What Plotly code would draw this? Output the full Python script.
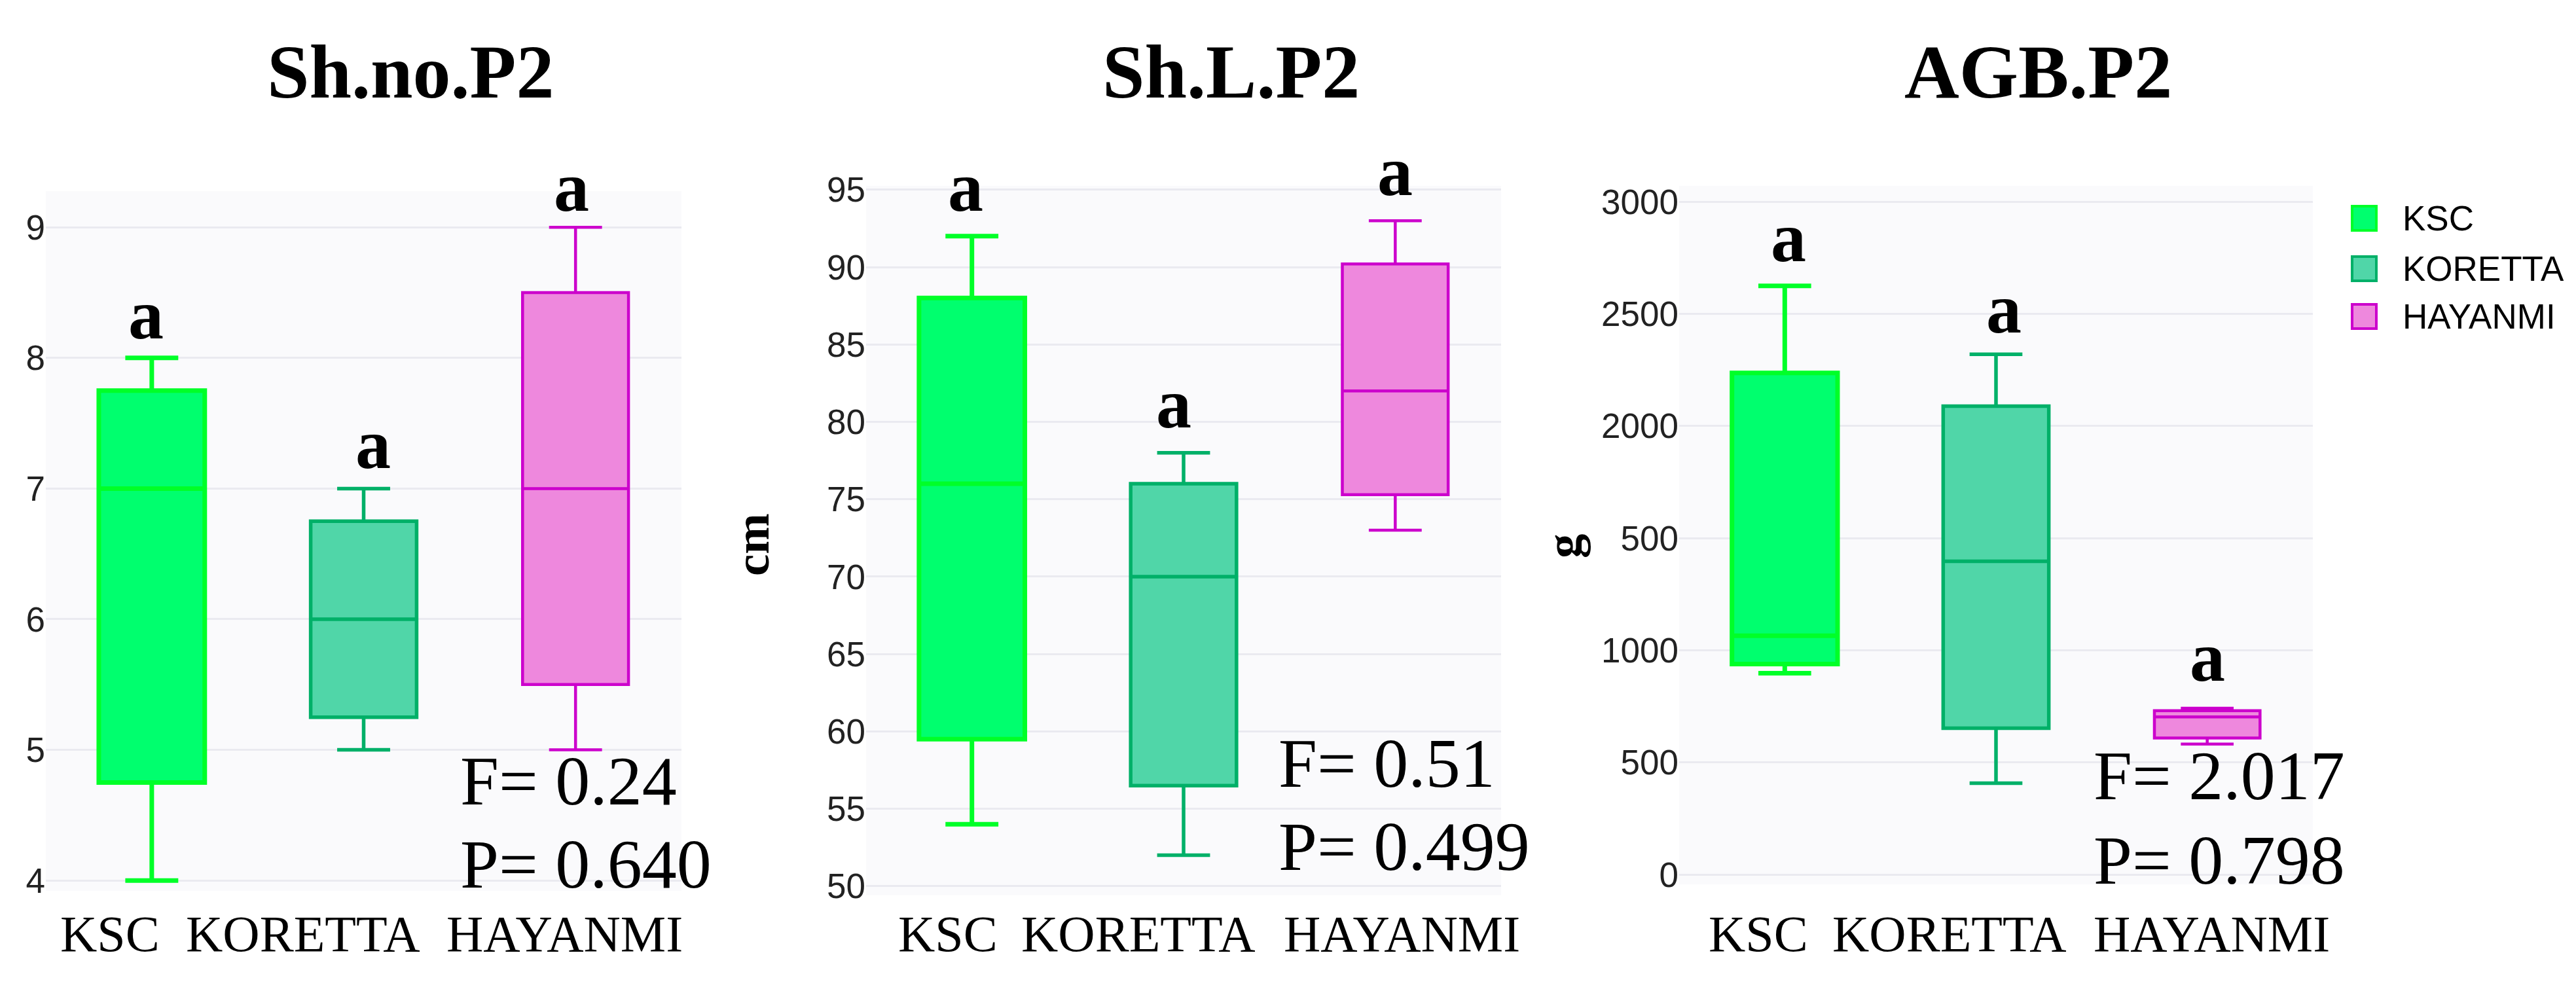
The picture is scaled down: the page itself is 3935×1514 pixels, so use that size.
import plotly.graph_objects as go

W, H = 3935, 1514

categories = ["KSC", "KORETTA", "HAYANMI"]
panel_titles = ["Sh.no.P2", "Sh.L.P2", "AGB.P2"]
y_titles = ["", "cm", "g"]

# Sh.no.P2 box statistics (per category)
shno_min = [4, 5, 5]
shno_q1 = [4.75, 5.25, 5.5]
shno_med = [7, 6, 7]
shno_q3 = [7.75, 6.75, 8.5]
shno_max = [8, 7, 9]

# Sh.L.P2 box statistics (cm)
shl_min = [54, 52, 73]
shl_q1 = [59.5, 56.5, 75.3]
shl_med = [76, 70, 82]
shl_q3 = [88, 76, 90.2]
shl_max = [92, 78, 93]

# AGB.P2 box statistics (g)
agb_min = [898, 408, 582]
agb_q1 = [939, 653, 609]
agb_med = [1065, 1397, 703]
agb_q3 = [2237, 2089, 731]
agb_max = [2625, 2320, 742]

# significance letters and their heights (in axis units)
letters = ["a", "a", "a"]
letter_y_shno = [8.33, 7.34, 9.31]
letter_y_shl = [95.2, 81.2, 96.2]
letter_y_agb = [2841, 2523, 972]

f_text = ["F= 0.24", "F= 0.51", "F= 2.017"]
p_text = ["P= 0.640", "P= 0.499", "P= 0.798"]

shno_ticks = [4, 5, 6, 7, 8, 9]
shl_ticks = [50, 55, 60, 65, 70, 75, 80, 85, 90, 95]
agb_tickvals = [0, 500, 1000, 1500, 2000, 2500, 3000]
agb_ticktext = ["0", "500", "1000", "500", "2000", "2500", "3000"]

line_colors = ["rgb(0,255,40)", "rgb(0,176,104)", "rgb(204,0,204)"]
fill_colors = ["rgb(0,255,110)", "rgb(80,214,168)", "rgb(238,136,221)"]
line_widths = [7, 5.5, 4.5]

panels = [
    dict(mn=shno_min, q1=shno_q1, md=shno_med, q3=shno_q3, mx=shno_max,
         ly=letter_y_shno, lxs=[-9, 14, -6],
         xpx=(70, 1041), ypx=(1373, 275), yrange=[3.922, 9.278],
         tickvals=shno_ticks, ticktext=[str(v) for v in shno_ticks],
         title_x=627, lab_x=[90, 282, 680], f_pos=(701, 1201), p_pos=(701, 1332),
         yt_pos=None),
    dict(mn=shl_min, q1=shl_q1, md=shl_med, q3=shl_q3, mx=shl_max,
         ly=letter_y_shl, lxs=[-10, -15, 0],
         xpx=(1323, 2293), ypx=(1380, 267), yrange=[49.42, 95.25],
         tickvals=shl_ticks, ticktext=[str(v) for v in shl_ticks],
         title_x=1880, lab_x=[1370, 1558, 1959], f_pos=(1951, 1173), p_pos=(1951, 1304),
         yt_pos=(1148, 830)),
    dict(mn=agb_min, q1=agb_q1, md=agb_med, q3=agb_q3, mx=agb_max,
         ly=letter_y_agb, lxs=[6, 12, 0],
         xpx=(2565, 3533), ypx=(1363, 267), yrange=[-43, 3071],
         tickvals=agb_tickvals, ticktext=agb_ticktext,
         title_x=3113, lab_x=[2608, 2797, 3196], f_pos=(3196, 1193), p_pos=(3196, 1326),
         yt_pos=(2388, 832)),
]


def px(x):
    return x / W


def py(y):
    return 1 - y / H


serif = "Liberation Serif"
sans = "Liberation Sans"

fig = go.Figure()
annotations = []
shapes = []
layout = {}

for i, p in enumerate(panels):
    sfx = "" if i == 0 else str(i + 1)
    xa, ya = "x" + sfx, "y" + sfx
    d0, d1 = py(p["ypx"][0]), py(p["ypx"][1])
    r0, r1 = p["yrange"]
    for j, cat in enumerate(categories):
        fig.add_trace(go.Box(
            x=[cat], q1=[p["q1"][j]], median=[p["md"][j]], q3=[p["q3"][j]],
            lowerfence=[p["mn"][j]], upperfence=[p["mx"][j]],
            name=cat, xaxis=xa, yaxis=ya, width=0.5, whiskerwidth=0.5,
            fillcolor=fill_colors[j], line=dict(color=line_colors[j], width=line_widths[j]),
            boxpoints=False, showlegend=False, hoverinfo="skip",
        ))
        # letter height: axis value -> paper fraction (letters may sit above the plot area)
        yl = d0 + (p["ly"][j] - r0) / (r1 - r0) * (d1 - d0)
        annotations.append(dict(
            x=cat, y=yl, xref=xa, yref="paper", text=letters[j], showarrow=False,
            xshift=p["lxs"][j], font=dict(family=serif, size=108, color="black", weight="bold"),
            xanchor="center", yanchor="middle"))
        annotations.append(dict(
            x=px(p["lab_x"][j]), y=py(1441), xref="paper", yref="paper", text=cat,
            showarrow=False, xanchor="left", yanchor="middle",
            font=dict(family=serif, size=78, color="black")))
    layout["xaxis" + sfx] = dict(
        domain=[px(p["xpx"][0]), px(p["xpx"][1])], anchor=ya, type="category",
        categoryorder="array", categoryarray=categories, range=[-0.5, 2.5],
        showticklabels=False, showgrid=False, zeroline=False, showline=False, ticks="")
    layout["yaxis" + sfx] = dict(
        domain=[d0, d1], anchor=xa, range=p["yrange"],
        tickvals=p["tickvals"], ticktext=p["ticktext"], showgrid=True,
        gridcolor="rgb(234,234,240)", gridwidth=3, zeroline=False, showline=False,
        ticks="", tickfont=dict(family=sans, size=53, color="#222222"))
    shapes.append(dict(type="rect", xref="paper", yref="paper", layer="below",
                       x0=px(p["xpx"][0]), x1=px(p["xpx"][1]), y0=d0, y1=d1,
                       fillcolor="rgb(250,250,252)", line=dict(width=0)))
    annotations.append(dict(
        x=px(p["title_x"]), y=py(88), xref="paper", yref="paper", text=panel_titles[i],
        showarrow=False, xanchor="center", yanchor="middle",
        font=dict(family=serif, size=116, color="black", weight="bold")))
    for txt, pos in ((f_text[i], p["f_pos"]), (p_text[i], p["p_pos"])):
        annotations.append(dict(
            x=px(pos[0]), y=py(pos[1]), xref="paper", yref="paper", text=txt,
            showarrow=False, xanchor="left", yanchor="middle",
            font=dict(family=serif, size=106, color="black")))
    if p["yt_pos"]:
        annotations.append(dict(
            x=px(p["yt_pos"][0]), y=py(p["yt_pos"][1]), xref="paper", yref="paper",
            text=y_titles[i], showarrow=False, textangle=-90,
            xanchor="center", yanchor="middle",
            font=dict(family=serif, size=75, color="black", weight="bold")))

# legend (drawn manually so the swatches match the reference size)
legend_y = [318, 397, 472]
for j, cat in enumerate(categories):
    shapes.append(dict(type="rect", xref="paper", yref="paper",
                       x0=px(3593), x1=px(3630), y0=py(legend_y[j] + 19), y1=py(legend_y[j] - 19),
                       fillcolor=fill_colors[j], line=dict(color=line_colors[j], width=4)))
    annotations.append(dict(
        x=px(3668), y=py(legend_y[j]), xref="paper", yref="paper", text=cat,
        showarrow=False, xanchor="left", yanchor="middle",
        font=dict(family=sans, size=53, color="black")))

fig.update_layout(
    width=W, height=H, margin=dict(l=0, r=0, t=0, b=0),
    paper_bgcolor="white", plot_bgcolor="rgba(0,0,0,0)",
    boxmode="overlay", showlegend=False,
    annotations=annotations, shapes=shapes, **layout)

fig.write_html("out.html", config={"displayModeBar": False},
               post_script="document.body.style.margin='0';")
